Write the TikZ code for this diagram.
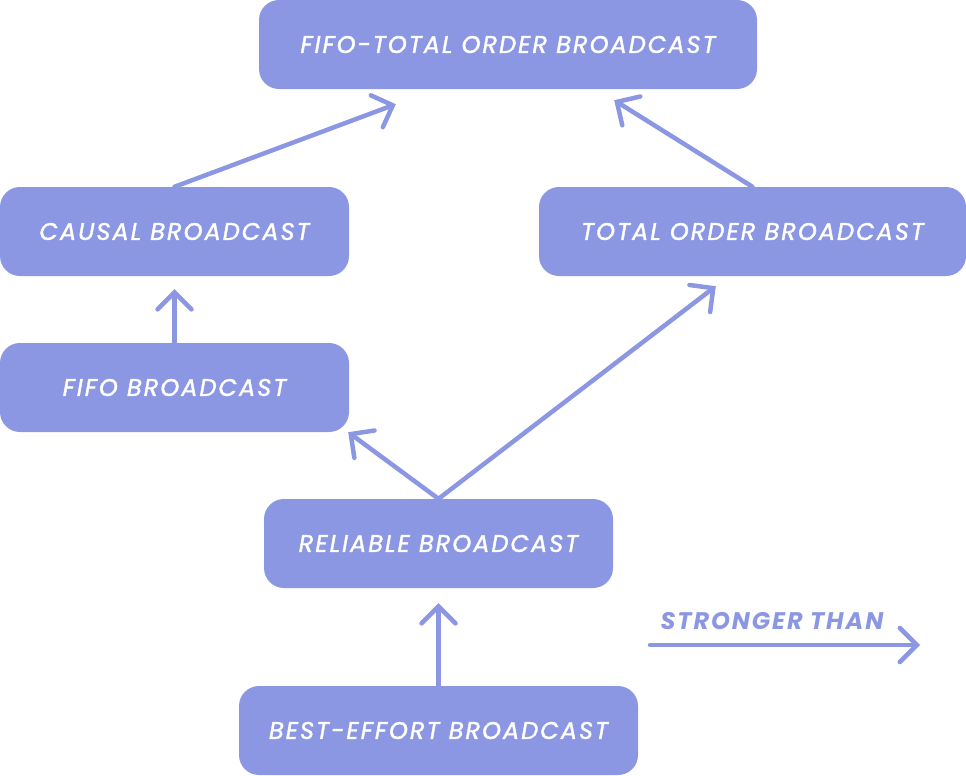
\documentclass[tikz,border=0pt]{standalone}
\usepackage{fontspec}
\setmainfont{Poppins}
\newfontfamily\boxfont[FakeBold=1.6, LetterSpace=8.5]{Poppins}
\newfontfamily\legendfont[LetterSpace=8]{Poppins}
\usetikzlibrary{shapes,arrows.meta}
\definecolor{lavender}{RGB}{140,151,227}

\begin{document}
\begin{tikzpicture}[x=1pt, y=-1pt, node distance = 187pt, auto]
    % Define block styles
    \tikzstyle{block} = [rectangle, fill=lavender, text=white,
        font=\fontsize{24}{28}\boxfont\itshape, rounded corners=20pt,
        minimum height=89pt, inner sep=0pt]
    \tikzstyle{line} = [draw=lavender, line width=4.5pt, line cap=round,
        -{Straight Barb[length=17pt, width=34pt, line cap=round]}]

    \useasboundingbox (0,0) rectangle (966,776);

    % Broadcast orders
    \node [block, minimum width=498pt] (fifototal) at (508,44.5) {FIFO-TOTAL ORDER BROADCAST};
    \node [block, minimum width=349pt] (causal) at (174.5,231.5) {CAUSAL BROADCAST};
    \node [block, minimum width=427pt] (totalorder) at (752.5,231.5) {TOTAL ORDER BROADCAST};
    \node [block, minimum width=349pt, below of=causal, node distance=156pt] (fifo) {FIFO BROADCAST};
    \node [block, minimum width=349pt] (reliable) at (438.5,543.5) {RELIABLE BROADCAST};
    \node [block, minimum width=399pt, below of=reliable] (besteffort) {BEST-EFFORT BROADCAST};

    % Stronger-than paths
    \path [line] (causal.north) -- ([xshift=137pt, yshift=-15pt]fifototal.south west);
    \path [line] (totalorder.north) -- ([xshift=-143pt, yshift=-11pt]fifototal.south east);
    \path [line] (fifo.north) -- ([yshift=-13pt]causal.south);
    \path [line] (reliable.north) -- ([xshift=-1pt]fifo.south east);
    \path [line] (reliable.north) -- ([xshift=177pt, yshift=-10pt]totalorder.south west);
    \path [line] (besteffort.north) -- ([yshift=-15pt]reliable.south);

    % Legend
    \coordinate (legstart) at (650,645);
    \coordinate (legend) at (920,645);
    \path [line] (legstart) -- (legend);
    \node [text=lavender, font=\fontsize{24}{28}\legendfont\bfseries\itshape] (legtext) at (772,621) {STRONGER THAN};

\end{tikzpicture}
\end{document}
